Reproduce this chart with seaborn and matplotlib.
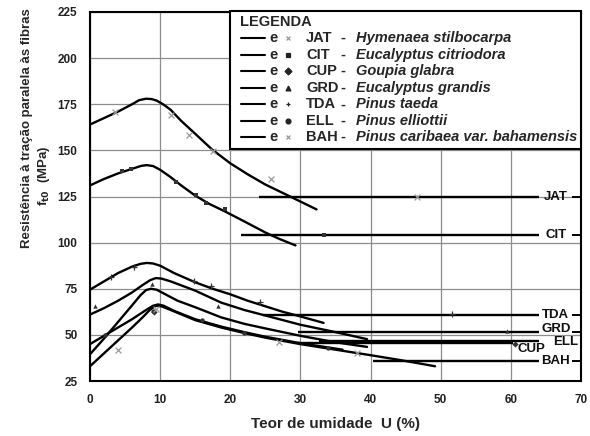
import numpy as np
import pandas as pd
import seaborn as sns
import matplotlib.pyplot as plt
from matplotlib.patches import Rectangle
from matplotlib.lines import Line2D

# curves: moisture content U (%) vs f_t0 (MPa)
JAT_u = [0, 2, 4, 6, 7, 8, 8.8, 9.5, 10.5, 11.5, 13, 15, 17.4, 20, 22.5, 25, 28.8, 32.3]
JAT_f = [164, 167.5, 171, 175, 177.2, 178, 177.8, 177, 174.8, 172, 166, 159, 150.5, 143, 137, 131.5, 124.5, 118]
CIT_u = [0, 2, 4, 6, 7.3, 8.1, 9, 10, 11.5, 13, 15, 17, 19.2, 22, 25, 27, 29.3]
CIT_f = [131, 134.5, 137.5, 140, 141.6, 142, 141.5, 139.5, 135.5, 131, 125.5, 121, 117, 111.5, 105.5, 102, 98.5]
TDA_u = [0, 2, 4, 6, 7.2, 8.1, 9, 10, 12, 15, 17.5, 20, 22.5, 25, 27.5, 30, 33.3]
TDA_f = [74.5, 79, 83.5, 87, 88.5, 89, 88.7, 87.5, 83.5, 78.5, 75, 72, 68.5, 65.5, 62.5, 60, 56.5]
GRD_u = [0, 2, 4, 6, 7.5, 8.6, 9.4, 10.2, 11.5, 15, 18.7, 22, 25, 30, 35, 39.5]
GRD_f = [61, 64.5, 68.5, 73, 77, 79.7, 80.8, 80.5, 79, 74, 67.5, 63.5, 60.5, 55.5, 51.5, 47.7]
ELL_u = [0, 2, 4, 6, 7.2, 8, 8.7, 9.5, 10.5, 12.5, 15, 18.7, 22, 25, 30, 35, 39.5]
ELL_f = [39.5, 48, 57, 66, 71.5, 74.3, 75, 74.5, 72.5, 68.5, 65, 59.5, 56, 53.5, 49.5, 46, 43.5]
CUP_u = [0, 2, 4, 6, 8, 9, 9.7, 10.5, 12, 15, 18.7, 22, 25, 30, 36]
CUP_f = [45, 49.5, 54, 58.5, 63.5, 65.8, 66.5, 65.8, 63, 58.5, 54.5, 51.5, 49, 45.5, 42]
BAH_u = [0, 2, 4, 6, 7.5, 8.6, 9.4, 10.2, 11.5, 15, 18.7, 22, 25, 30, 35, 40, 44, 47, 49.2]
BAH_f = [33, 40, 47, 54, 59.5, 63.8, 65.8, 65.5, 63.5, 58, 54, 51, 48.5, 45, 42, 39, 36.5, 34.5, 33]

# scattered test points
JAT_mu = [3.6, 11.5, 14.1, 17.5, 25.8, 46.6]
JAT_mf = [171, 169, 158.5, 149.5, 134.5, 125]
CIT_mu = [4.6, 5.8, 12.2, 15.1, 16.5, 19.2, 33.3]
CIT_mf = [139, 140, 133, 126, 121.5, 118, 104]
TDA_mu = [3.0, 6.3, 14.8, 17.3, 24.2, 51.6]
TDA_mf = [81.5, 87, 79, 76.5, 68, 61.5]
GRD_mu = [0.7, 8.9, 18.2, 59.4]
GRD_mf = [65.5, 77.5, 65.5, 52]
CUP_mu = [9.1, 60.6]
CUP_mf = [62.5, 45]
ELL_mu = [2.2, 9.0, 16.0, 22.0, 34.0]
ELL_mf = [50, 63, 58, 51, 43]
BAH_mu = [4.0, 9.4, 27.0, 38.0]
BAH_mf = [42, 64, 46, 40]

# saturated (horizontal) levels
plateau_code = ["JAT", "CIT", "TDA", "GRD", "CUP", "ELL", "BAH"]
plateau_f = [125, 104, 61, 51.5, 45.5, 46.5, 35.8]
plateau_start = [24.1, 21.5, 24.7, 29.7, 29.7, 32.7, 40.3]
plateau_end = [64, 64, 64, 64, 60.3, 64, 64]

codes = ["JAT", "CIT", "CUP", "GRD", "TDA", "ELL", "BAH"]
species = ["Hymenaea stilbocarpa", "Eucalyptus citriodora", "Goupia glabra",
           "Eucalyptus grandis", "Pinus taeda", "Pinus elliottii",
           "Pinus caribaea var. bahamensis"]
markers = {"JAT": "x", "CIT": "s", "CUP": "D", "GRD": "^",
           "TDA": "+", "ELL": "o", "BAH": "x"}

curves = {"JAT": (JAT_u, JAT_f), "CIT": (CIT_u, CIT_f), "TDA": (TDA_u, TDA_f),
          "GRD": (GRD_u, GRD_f), "ELL": (ELL_u, ELL_f), "CUP": (CUP_u, CUP_f),
          "BAH": (BAH_u, BAH_f)}
points = {"JAT": (JAT_mu, JAT_mf), "CIT": (CIT_mu, CIT_mf), "TDA": (TDA_mu, TDA_mf),
          "GRD": (GRD_mu, GRD_mf), "CUP": (CUP_mu, CUP_mf), "ELL": (ELL_mu, ELL_mf),
          "BAH": (BAH_mu, BAH_mf)}

df = pd.concat([pd.DataFrame({"esp": k, "u": v[0], "f": v[1]}) for k, v in curves.items()],
               ignore_index=True)

sns.set_theme(style="whitegrid")
plt.rcParams["font.family"] = ["Liberation Sans", "DejaVu Sans"]

fig = plt.figure(figsize=(5.9, 4.36), dpi=100)
ax = fig.add_axes([0.1525, 0.1261, 0.8322, 0.8464])

sns.lineplot(data=df, x="u", y="f", units="esp", estimator=None, sort=False,
             color="black", lw=1.7, ax=ax, zorder=3)

for k, (mu, mf) in points.items():
    m = markers[k]
    col = "#9a9a9a" if k in ("JAT", "BAH") else "#333333"
    if m in ("x", "+"):
        sns.scatterplot(x=mu, y=mf, marker=m, color=col, s=18, linewidth=0.9, ax=ax, zorder=4)
    else:
        sns.scatterplot(x=mu, y=mf, marker=m, color=col, s=10, linewidth=0, ax=ax, zorder=4)

ax.hlines(plateau_f, plateau_start, plateau_end, color="black", lw=1.7, zorder=3)

# labels at the right end of the saturated lines
lab_x = {"JAT": 66.4, "CIT": 66.4, "TDA": 66.4, "GRD": 66.4, "CUP": 63.0, "ELL": 67.8, "BAH": 66.4}
lab_y = {"JAT": 125, "CIT": 104, "TDA": 61, "GRD": 53.2, "CUP": 42.4, "ELL": 46.2, "BAH": 35.8}
for c, fy in zip(plateau_code, plateau_f):
    ax.text(lab_x[c], lab_y[c], c, ha="center", va="center", fontsize=9.5,
            fontweight="bold", color="#111111", zorder=6)
    if c not in ("CUP", "ELL"):
        ax.hlines(fy, 68.7, 70, color="black", lw=1.4, zorder=3)

ax.set_xlim(0, 70)
ax.set_ylim(25, 225)
ax.set_xticks(range(0, 71, 10))
ax.set_yticks(range(25, 226, 25))
ax.grid(True, color="#8c8c8c", lw=0.9)
for s in ax.spines.values():
    s.set_visible(True)
    s.set_color("black")
    s.set_linewidth(1.5)
ax.tick_params(length=0, labelsize=8.5, colors="#222222")
ax.tick_params(axis="x", pad=9)
ax.tick_params(axis="y", pad=9)
for t in ax.get_xticklabels() + ax.get_yticklabels():
    t.set_fontweight("bold")

ax.set_xlabel("Teor de umidade  U (%)", fontsize=11, fontweight="bold", labelpad=8)
ax.set_ylabel("")
fig.text(0.045, 0.706, "Resistência à tração paralela às fibras", rotation=90,
         ha="center", va="center", fontsize=9.5, fontweight="bold")
fig.text(0.074, 0.596, r"f$_{\mathbf{t0}}$  (MPa)", rotation=90,
         ha="center", va="center", fontsize=9.5, fontweight="bold")

# legend box
ax.add_patch(Rectangle((0.285, 0.63), 0.715, 0.372, transform=ax.transAxes,
                       facecolor="white", edgecolor="black", lw=1.5, zorder=7, clip_on=False))
ax.text(0.305, 0.972, "LEGENDA", transform=ax.transAxes, ha="left", va="center",
        fontsize=10.5, fontweight="bold", zorder=8)
rows = [0.929, 0.884, 0.840, 0.795, 0.750, 0.705, 0.662]
for c, sp, ry in zip(codes, species, rows):
    ax.add_line(Line2D([0.307, 0.356], [ry, ry], transform=ax.transAxes,
                       color="black", lw=1.5, zorder=8))
    ax.text(0.373, ry, "e", transform=ax.transAxes, ha="center", va="center",
            fontsize=10.5, fontweight="bold", zorder=8)
    m = markers[c]
    col = "#9a9a9a" if c in ("JAT", "BAH") else "#222222"
    ax.add_line(Line2D([0.404], [ry], transform=ax.transAxes, marker=m, ms=3.5,
                       color=col, mew=0.9, lw=0, zorder=8))
    ax.text(0.440, ry, c, transform=ax.transAxes, ha="left", va="center",
            fontsize=10.5, fontweight="bold", zorder=8)
    ax.text(0.515, ry, "-", transform=ax.transAxes, ha="center", va="center",
            fontsize=10.5, fontweight="bold", zorder=8)
    ax.text(0.541, ry, sp, transform=ax.transAxes, ha="left", va="center",
            fontsize=10.5, fontweight="bold", style="italic", zorder=8)

fig.savefig("out.png", dpi=100, facecolor="white")
